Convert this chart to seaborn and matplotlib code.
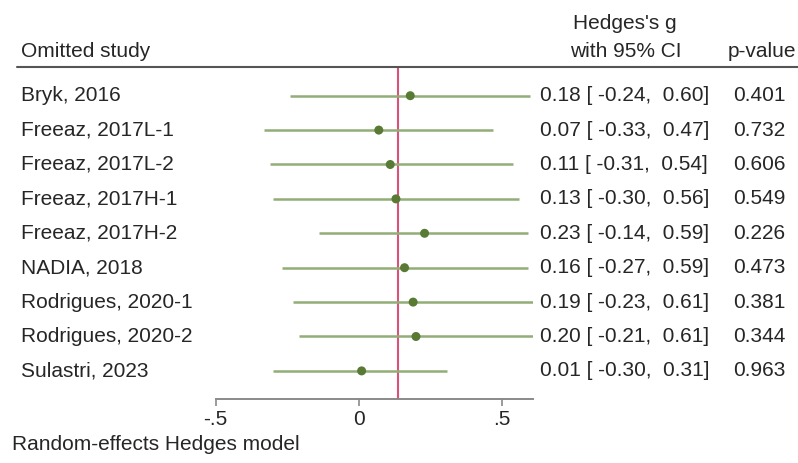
import matplotlib
matplotlib.use("Agg")
import matplotlib.pyplot as plt
import matplotlib.transforms as mtransforms
import seaborn as sns
import pandas as pd

# leave-one-out meta analysis
studies = ["Bryk, 2016", "Freeaz, 2017L-1", "Freeaz, 2017L-2", "Freeaz, 2017H-1",
           "Freeaz, 2017H-2", "NADIA, 2018", "Rodrigues, 2020-1", "Rodrigues, 2020-2",
           "Sulastri, 2023"]
g = [0.18, 0.07, 0.11, 0.13, 0.23, 0.16, 0.19, 0.20, 0.01]
ci_lo = [-0.24, -0.33, -0.31, -0.30, -0.14, -0.27, -0.23, -0.21, -0.30]
ci_hi = [0.60, 0.47, 0.54, 0.56, 0.59, 0.59, 0.61, 0.61, 0.31]
p_values = [0.401, 0.732, 0.606, 0.549, 0.226, 0.473, 0.381, 0.344, 0.963]
overall = 0.137

x_ticks = [-0.5, 0, 0.5]
x_tick_labels = ["-.5", "0", ".5"]

df = pd.DataFrame({"study": studies, "g": g, "lo": ci_lo, "hi": ci_hi, "p": p_values})
df["row"] = range(len(df))

sns.set_theme(style="white")
plt.rcParams["font.family"] = ["Liberation Sans", "DejaVu Sans"]

W, H = 798, 463
fig = plt.figure(figsize=(W / 100, H / 100), dpi=100)
ax = fig.add_axes([215.7 / W, 1 - 399 / H, 317.6 / W, 332.3 / H])

line_col = "#93ad78"
dot_col = "#587a34"
red_col = "#d9527a"
txt_col = "#262626"
fs = 15

ax.hlines(df["row"], df["lo"], df["hi"], color=line_col, lw=1.8, zorder=2)
sns.scatterplot(data=df, x="g", y="row", color=dot_col, s=42, edgecolor="none",
                zorder=3, ax=ax, legend=False)
ax.axvline(overall, color=red_col, lw=1.5, zorder=1)

ax.set_xlim(-0.5, 0.61)
ax.set_ylim(8.817, -0.843)
ax.set_xticks(x_ticks)
ax.set_xticklabels(x_tick_labels, fontsize=fs, color=txt_col)
ax.set_yticks([])
ax.set_xlabel("")
ax.set_ylabel("")
for side in ["top", "left", "right"]:
    ax.spines[side].set_visible(False)
ax.spines["bottom"].set_color("#8a8a8a")
ax.spines["bottom"].set_linewidth(1.4)
ax.tick_params(axis="x", bottom=True, length=5, width=1.2, color="#8a8a8a", pad=3)

# text columns
tr = mtransforms.blended_transform_factory(fig.transFigure, ax.transData)
for _, r in df.iterrows():
    ax.text(21 / W, r["row"], r["study"], transform=tr, ha="left", va="center",
            fontsize=fs, color=txt_col)
    ax.text(540 / W, r["row"], f"{r['g']:.2f} [ {r['lo']:.2f},  {r['hi']:.2f}]",
            transform=tr, ha="left", va="center", fontsize=fs, color=txt_col)
    ax.text(733 / W, r["row"], f"{r['p']:.3f}", transform=tr, ha="left", va="center",
            fontsize=fs, color=txt_col)

# header
fig.text(21 / W, 1 - 57 / H, "Omitted study", ha="left", va="baseline", fontsize=fs, color=txt_col)
fig.text(625 / W, 1 - 29 / H, "Hedges's g", ha="center", va="baseline", fontsize=fs, color=txt_col)
fig.text(626 / W, 1 - 57 / H, "with 95% CI", ha="center", va="baseline", fontsize=fs, color=txt_col)
fig.text(728 / W, 1 - 57 / H, "p-value", ha="left", va="baseline", fontsize=fs, color=txt_col)
fig.add_artist(plt.Line2D([17 / W, 1.0], [1 - 66.7 / H, 1 - 66.7 / H],
                          transform=fig.transFigure, color="#555555", lw=1.5))

fig.text(12 / W, 1 - 450 / H, "Random-effects Hedges model", ha="left", va="baseline",
         fontsize=fs, color=txt_col)

fig.savefig("out.png", dpi=100, facecolor="white")
